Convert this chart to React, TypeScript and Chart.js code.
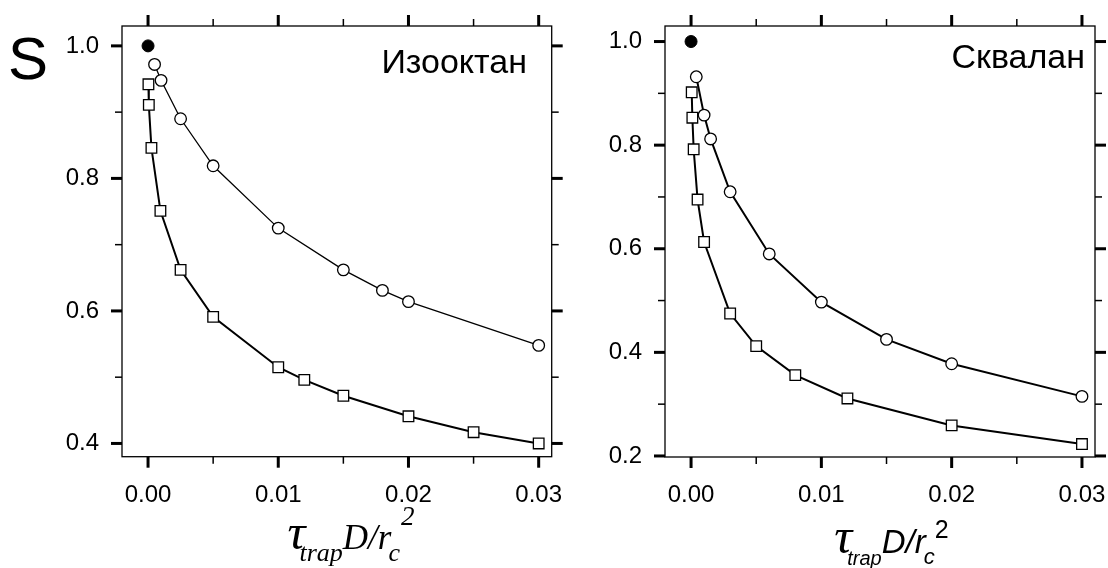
import React, { useEffect, useRef } from "react";
import { Chart, registerables } from "chart.js";

Chart.register(...registerables);

// ---------- data ----------
const xMajorTicks = [0, 0.01, 0.02, 0.03];
const xMinorTicks = [0.005, 0.015, 0.025];

const refPointX = [0];
const refPointY = [1.0];

// Isooctane panel
const isoLabel = "Изооктан";
const isoCircleX = [0.0005, 0.001, 0.0025, 0.005, 0.01, 0.015, 0.018, 0.02, 0.03];
const isoCircleY = [0.972, 0.948, 0.89, 0.819, 0.725, 0.662, 0.631, 0.614, 0.548];
const isoSquareX = [0.00003, 0.00006, 0.00026, 0.00095, 0.0025, 0.005, 0.01, 0.012, 0.015, 0.02, 0.025, 0.03];
const isoSquareY = [0.942, 0.911, 0.846, 0.751, 0.662, 0.591, 0.515, 0.496, 0.472, 0.441, 0.417, 0.4];
const isoYMajor = [0.4, 0.6, 0.8, 1.0];
const isoYMinor = [0.5, 0.7, 0.9];

// Squalane panel
const sqLabel = "Сквалан";
const sqCircleX = [0.0004, 0.001, 0.0015, 0.003, 0.006, 0.01, 0.015, 0.02, 0.03];
const sqCircleY = [0.932, 0.858, 0.812, 0.71, 0.59, 0.497, 0.425, 0.378, 0.315];
const sqSquareX = [0.00005, 0.0001, 0.0002, 0.0005, 0.001, 0.003, 0.005, 0.008, 0.012, 0.02, 0.03];
const sqSquareY = [0.902, 0.853, 0.792, 0.695, 0.613, 0.475, 0.412, 0.356, 0.311, 0.259, 0.223];
const sqYMajor = [0.2, 0.4, 0.6, 0.8, 1.0];
const sqYMinor = [0.3, 0.5, 0.7, 0.9];

const yAxisTitle = "S";

// ---------- helpers ----------
const W = 1108;
const H = 568;
const SANS = "'Liberation Sans', Arial, sans-serif";
const SERIF = "'Liberation Serif', 'Times New Roman', serif";

type Piece = { text: string; family: string; size: number; style: string; dy: number; dx: number };

const toXY = (xs: number[], ys: number[]) => xs.map((x, i) => ({ x, y: ys[i] }));

function drawRich(ctx: CanvasRenderingContext2D, pieces: Piece[], cx: number, baseline: number) {
  let total = 0;
  const widths = pieces.map((p) => {
    ctx.font = `${p.style} ${p.size}px ${p.family}`;
    const w = ctx.measureText(p.text).width;
    total += w + p.dx;
    return w;
  });
  let x = cx - total / 2;
  ctx.textAlign = "left";
  ctx.textBaseline = "alphabetic";
  pieces.forEach((p, i) => {
    x += p.dx;
    ctx.font = `${p.style} ${p.size}px ${p.family}`;
    ctx.fillText(p.text, x, baseline + p.dy);
    x += widths[i];
  });
}

type PanelCfg = {
  area: { left: number; top: number; right: number; bottom: number };
  yMin: number;
  yMax: number;
  yMajor: number[];
  yMinor: number[];
  circleX: number[];
  circleY: number[];
  squareX: number[];
  squareY: number[];
  circleLineWidth: number;
  squareLineWidth: number;
  label: string;
  labelRight: number;
  labelBaseline: number;
  title: Piece[];
  titleCenter: number;
  titleBaseline: number;
  showS: boolean;
};

function makeChart(canvas: HTMLCanvasElement, cfg: PanelCfg) {
  const decor = {
    id: "decor" + Math.random().toString(36).slice(2),
    beforeDatasetsDraw(chart: any) {
      const ctx = chart.ctx as CanvasRenderingContext2D;
      const { left, right, top, bottom } = chart.chartArea;
      const xs = chart.scales.x;
      const ys = chart.scales.y;
      ctx.save();
      ctx.strokeStyle = "#000";
      ctx.lineWidth = 1.3;
      ctx.strokeRect(left, top, right - left, bottom - top);
      const tick = (x1: number, y1: number, x2: number, y2: number, w: number) => {
        ctx.lineWidth = w;
        ctx.beginPath();
        ctx.moveTo(x1, y1);
        ctx.lineTo(x2, y2);
        ctx.stroke();
      };
      const majL = 11, minL = 7, majW = 3, minW = 1.5;
      xMajorTicks.forEach((v) => {
        const p = xs.getPixelForValue(v);
        tick(p, bottom, p, bottom + majL, majW);
        tick(p, top, p, top - majL, majW);
      });
      xMinorTicks.forEach((v) => {
        const p = xs.getPixelForValue(v);
        tick(p, bottom, p, bottom + minL, minW);
        tick(p, top, p, top - minL, minW);
      });
      cfg.yMajor.forEach((v) => {
        const p = ys.getPixelForValue(v);
        tick(left, p, left - majL, p, majW);
        tick(right, p, right + majL, p, majW);
      });
      cfg.yMinor.forEach((v) => {
        const p = ys.getPixelForValue(v);
        tick(left, p, left - minL, p, minW);
        tick(right, p, right + minL, p, minW);
      });
      ctx.restore();
    },
    afterDraw(chart: any) {
      const ctx = chart.ctx as CanvasRenderingContext2D;
      ctx.save();
      ctx.fillStyle = "#000";
      ctx.font = `34px ${SANS}`;
      ctx.textAlign = "right";
      ctx.textBaseline = "alphabetic";
      ctx.fillText(cfg.label, cfg.labelRight, cfg.labelBaseline);
      if (cfg.showS) {
        ctx.font = `60px ${SANS}`;
        ctx.textAlign = "left";
        ctx.fillText(yAxisTitle, 8, 79);
      }
      drawRich(ctx, cfg.title, cfg.titleCenter, cfg.titleBaseline);
      ctx.restore();
    },
  };

  const tickFont = { family: SANS, size: 24 };
  const hidden = { display: true, drawOnChartArea: false, drawTicks: true, color: "rgba(0,0,0,0)" };

  return new Chart(canvas, {
    type: "line",
    data: {
      datasets: [
        {
          data: toXY(cfg.squareX, cfg.squareY),
          borderColor: "#000",
          borderWidth: cfg.squareLineWidth,
          pointStyle: "rect",
          pointRadius: 7.5,
          pointBackgroundColor: "#fff",
          pointBorderColor: "#000",
          pointBorderWidth: 1.3,
          tension: 0,
        },
        {
          data: toXY(cfg.circleX, cfg.circleY),
          borderColor: "#000",
          borderWidth: cfg.circleLineWidth,
          pointStyle: "circle",
          pointRadius: 5.8,
          pointBackgroundColor: "#fff",
          pointBorderColor: "#000",
          pointBorderWidth: 1.3,
          tension: 0,
        },
        {
          data: toXY(refPointX, refPointY),
          showLine: false,
          pointStyle: "circle",
          pointRadius: 6,
          pointBackgroundColor: "#000",
          pointBorderColor: "#000",
          pointBorderWidth: 1,
        },
      ],
    },
    options: {
      animation: false,
      responsive: false,
      events: [],
      clip: false as any,
      layout: {
        padding: { left: 0, top: cfg.area.top, right: W - cfg.area.right, bottom: 0 },
      },
      plugins: { legend: { display: false }, tooltip: { enabled: false }, title: { display: false } },
      scales: {
        x: {
          type: "linear",
          position: "bottom",
          min: -0.002,
          max: 0.031,
          afterBuildTicks: (s: any) => {
            s.ticks = xMajorTicks.map((v) => ({ value: v }));
          },
          afterFit: (s: any) => {
            s.height = H - cfg.area.bottom;
          },
          grid: { ...hidden, tickLength: 24 },
          border: { display: false },
          ticks: {
            padding: 0,
            autoSkip: false,
            maxRotation: 0,
            color: "#000",
            font: tickFont,
            callback: (v: any) => Number(v).toFixed(2),
          },
        },
        y: {
          type: "linear",
          position: "left",
          min: cfg.yMin,
          max: cfg.yMax,
          afterBuildTicks: (s: any) => {
            s.ticks = cfg.yMajor.map((v) => ({ value: v }));
          },
          afterFit: (s: any) => {
            s.width = cfg.area.left;
          },
          grid: { ...hidden, tickLength: 23 },
          border: { display: false },
          ticks: {
            padding: 0,
            autoSkip: false,
            color: "#000",
            font: tickFont,
            callback: (v: any) => Number(v).toFixed(1),
          },
        },
      },
    },
    plugins: [decor],
  } as any);
}

const leftTitle: Piece[] = [
  { text: "τ", family: SERIF, size: 50, style: "italic", dy: 0, dx: 0 },
  { text: "trap", family: SERIF, size: 26, style: "italic", dy: 12, dx: -6 },
  { text: "D/r", family: SERIF, size: 35, style: "italic", dy: 0, dx: 0 },
  { text: "c", family: SERIF, size: 26, style: "italic", dy: 12, dx: -3 },
  { text: "2", family: SERIF, size: 27, style: "italic", dy: -24, dx: 1 },
];

const rightTitle: Piece[] = [
  { text: "τ", family: SERIF, size: 50, style: "italic", dy: 0, dx: 0 },
  { text: "trap", family: SANS, size: 20, style: "italic", dy: 12, dx: -5 },
  { text: "D/r", family: SANS, size: 33, style: "italic", dy: 0, dx: 0 },
  { text: "c", family: SANS, size: 22, style: "italic", dy: 11, dx: -2 },
  { text: "2", family: SANS, size: 25, style: "normal", dy: -15, dx: 0 },
];

const leftCfg: PanelCfg = {
  area: { left: 122, top: 26, right: 551.7, bottom: 456.7 },
  yMin: 0.38,
  yMax: 1.03,
  yMajor: isoYMajor,
  yMinor: isoYMinor,
  circleX: isoCircleX,
  circleY: isoCircleY,
  squareX: isoSquareX,
  squareY: isoSquareY,
  circleLineWidth: 1.3,
  squareLineWidth: 2,
  label: isoLabel,
  labelRight: 527,
  labelBaseline: 73,
  title: leftTitle,
  titleCenter: 351,
  titleBaseline: 549,
  showS: true,
};

const rightCfg: PanelCfg = {
  area: { left: 665, top: 26, right: 1095, bottom: 457 },
  yMin: 0.198,
  yMax: 1.03,
  yMajor: sqYMajor,
  yMinor: sqYMinor,
  circleX: sqCircleX,
  circleY: sqCircleY,
  squareX: sqSquareX,
  squareY: sqSquareY,
  circleLineWidth: 2,
  squareLineWidth: 2,
  label: sqLabel,
  labelRight: 1085,
  labelBaseline: 68,
  title: rightTitle,
  titleCenter: 891.5,
  titleBaseline: 553,
  showS: false,
};

export default function App() {
  const leftRef = useRef<HTMLCanvasElement>(null);
  const rightRef = useRef<HTMLCanvasElement>(null);

  useEffect(() => {
    const a = makeChart(leftRef.current!, leftCfg);
    const b = makeChart(rightRef.current!, rightCfg);
    return () => {
      a.destroy();
      b.destroy();
    };
  }, []);

  const cs: React.CSSProperties = { position: "absolute", left: 0, top: 0, width: W, height: H };
  return (
    <div style={{ position: "absolute", left: 0, top: 0, width: W, height: H, background: "#fff" }}>
      <canvas ref={leftRef} width={W} height={H} style={cs} />
      <canvas ref={rightRef} width={W} height={H} style={cs} />
    </div>
  );
}
